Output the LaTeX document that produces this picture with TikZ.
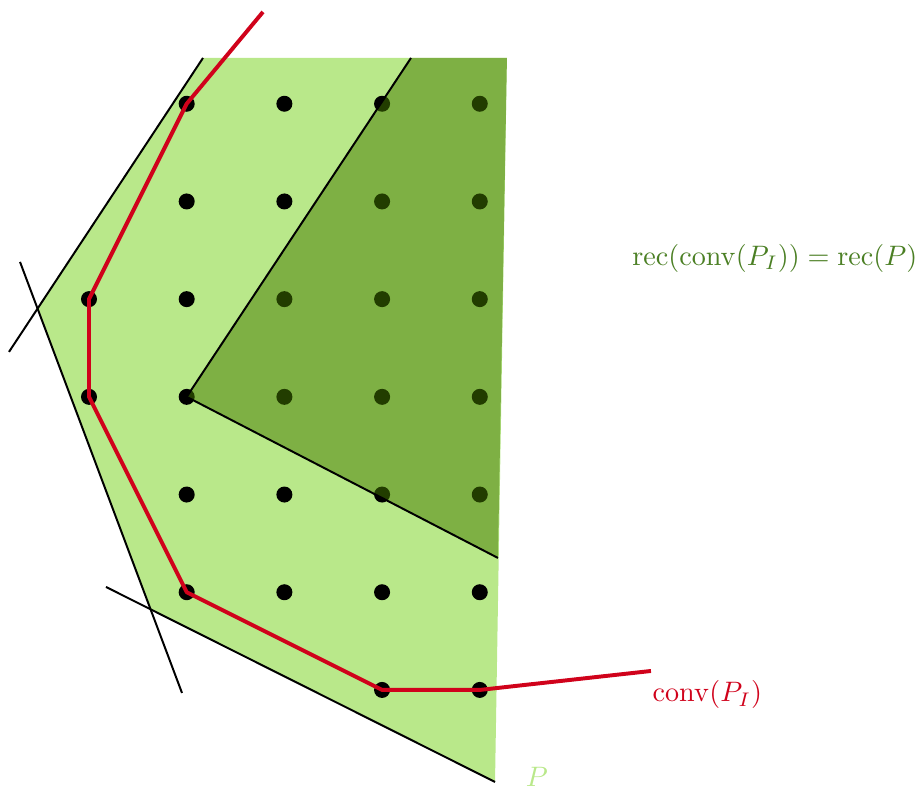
\documentclass[tikz,border=0pt]{standalone}
\usepackage{tikz}
\usetikzlibrary{positioning}
\definecolor{plight}{HTML}{B9E88A}
\definecolor{pdark}{HTML}{447A00}
\definecolor{rectext}{HTML}{4B7F24}
\definecolor{convred}{HTML}{D0021B}
\tikzset{
  latdot/.style={circle, fill=black, minimum size=2mm, inner sep=0pt},
  halfline/.style={line width=0.7pt, black},
  convline/.style={line width=1.4pt, convred, line join=round},
  reclabel/.style={text=rectext},
}

\begin{document}
\begin{tikzpicture}[x=1.22cm, y=1.22cm]
  \useasboundingbox (-0.911,-1.013) rectangle (8.506,7.062);
  % polyhedron P
  \fill[plight] (1.167,6.469) -- (4.278,6.469) -- (4.156,-0.942)
    -- (0.630,0.825) -- (-0.529,3.907) -- cycle;
  \draw[halfline] (-0.819,3.460) -- (1.167,6.469);
  \draw[halfline] (-0.706,4.381) -- (0.952,-0.031);
  \draw[halfline] (0.174,1.054) -- (4.156,-0.942);
  % integer points
  \foreach \i/\j in {1/6,2/6,3/6,4/6, 1/5,2/5,3/5,4/5,
      0/4,1/4,2/4,3/4,4/4, 0/3,1/3,2/3,3/3,4/3,
      1/2,2/2,3/2,4/2, 1/1,2/1,3/1,4/1, 3/0,4/0}
    \node[latdot] (d\i\j) at (\i,\j) {};
  % recession cone
  \fill[pdark, opacity=0.5] (d13.center) -- (3.296,6.469) -- (4.278,6.469)
    -- (4.186,1.351) -- cycle;
  \draw[halfline] (d13.center) -- (3.296,6.469);
  \draw[halfline] (d13.center) -- (4.186,1.351);
  % conv(P_I)
  \coordinate (cstart) at (1.781,6.940);
  \coordinate (cend) at (5.752,0.194);
  \draw[convline] (cstart) -- (d16.center) -- (d04.center) -- (d03.center)
    -- (d11.center) -- (d30.center) -- (d40.center) -- (cend);
  % labels
  \node[reclabel] (rec) at (7.02,4.42) {$\mathrm{rec}(\mathrm{conv}(P_I)) = \mathrm{rec}(P)$};
  \node[text=convred] (conv) at (6.33,-0.05) {$\mathrm{conv}(P_I)$};
  \node[text=plight] (plab) at (4.585,-0.89) {$P$};
\end{tikzpicture}
\end{document}
